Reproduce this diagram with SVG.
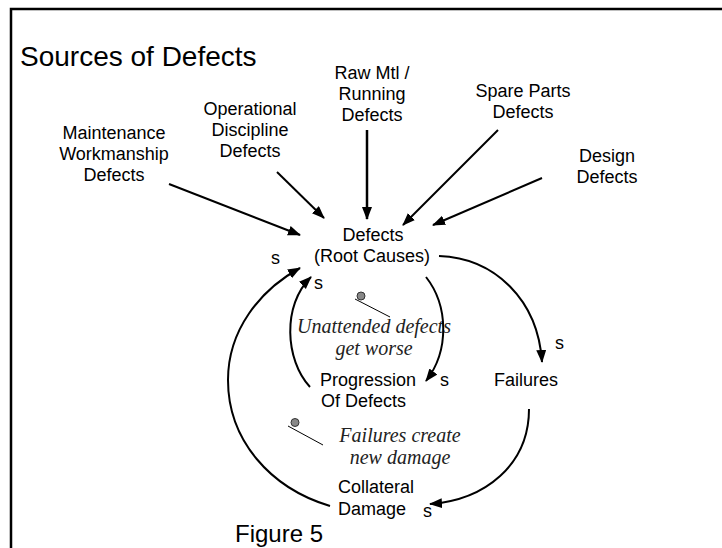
<svg xmlns="http://www.w3.org/2000/svg" width="722" height="548" viewBox="0 0 722 548">
<style>
.lbl{font-family:"Liberation Sans",Arial,sans-serif;font-size:18px;fill:#000;text-anchor:middle}
.st{text-anchor:start}
.note{font-family:"Liberation Serif","Times New Roman",serif;font-style:italic;font-size:20px;fill:#222;text-anchor:middle}
.conn{fill:none;stroke:#000;stroke-width:2;marker-end:url(#ah)}
.pin{fill:#888;stroke:#333;stroke-width:1}
.pinline{stroke:#000;stroke-width:1;fill:none}
</style>
<defs>
<marker id="ah" markerUnits="userSpaceOnUse" markerWidth="14" markerHeight="12" refX="12" refY="5" orient="auto">
<path d="M0,0 L13,5 L0,10 z" fill="#000"/>
</marker>
</defs>
<rect width="722" height="548" fill="#fff"/>
<g id="frame">
<path d="M11,548 L11,9 L722,9" fill="none" stroke="#000" stroke-width="2.5"/>
</g>
<g id="title">
<text x="20" y="66" style="font-family:'Liberation Sans',Arial,sans-serif;font-size:28px">Sources of Defects</text>
</g>
<g id="node-maintenance">
<text class="lbl" x="114" y="139">Maintenance</text>
<text class="lbl" x="114" y="160">Workmanship</text>
<text class="lbl" x="114" y="181">Defects</text>
</g>
<g id="node-operational">
<text class="lbl" x="250" y="115">Operational</text>
<text class="lbl" x="250" y="136">Discipline</text>
<text class="lbl" x="250" y="157">Defects</text>
</g>
<g id="node-rawmtl">
<text class="lbl" x="372" y="79">Raw Mtl /</text>
<text class="lbl" x="372" y="100">Running</text>
<text class="lbl" x="372" y="121">Defects</text>
</g>
<g id="node-spare">
<text class="lbl" x="523" y="97">Spare Parts</text>
<text class="lbl" x="523" y="118">Defects</text>
</g>
<g id="node-design">
<text class="lbl" x="607" y="162">Design</text>
<text class="lbl" x="607" y="183">Defects</text>
</g>
<g id="node-defects">
<text class="lbl" x="373" y="241">Defects</text>
<text class="lbl" x="372" y="262">(Root Causes)</text>
</g>
<g id="node-progression">
<text class="lbl st" x="320" y="386">Progression</text>
<text class="lbl st" x="321" y="407">Of Defects</text>
</g>
<g id="node-failures">
<text class="lbl" x="526" y="386">Failures</text>
</g>
<g id="node-collateral">
<text class="lbl st" x="338" y="493">Collateral</text>
<text class="lbl st" x="338" y="515">Damage</text>
</g>
<g id="note-unattended">
<circle class="pin" cx="361" cy="296" r="4"/>
<line class="pinline" x1="355" y1="299" x2="390" y2="317"/>
<text class="note" x="374" y="333">Unattended defects</text>
<text class="note" x="374" y="355">get worse</text>
</g>
<g id="note-failures">
<circle class="pin" cx="295" cy="422.5" r="4"/>
<line class="pinline" x1="288" y1="426" x2="323" y2="445"/>
<text class="note" x="400" y="442">Failures create</text>
<text class="note" x="400" y="464">new damage</text>
</g>
<g id="connectors">
<line class="conn" x1="169" y1="184" x2="300" y2="235"/>
<line class="conn" x1="277" y1="172" x2="324" y2="218"/>
<line class="conn" x1="367" y1="130" x2="367" y2="219" style="stroke-width:2.5"/>
<line class="conn" x1="498" y1="130" x2="403" y2="225"/>
<line class="conn" x1="542" y1="178" x2="433" y2="225"/>
<path class="conn" d="M439,256 C495,258 538,300 542,362"/>
<path class="conn" d="M426,277 C448,305 450,350 426,381"/>
<path class="conn" d="M310,387 C285,360 282,305 311,277"/>
<path class="conn" d="M529,409 C529,465 485,500 430,504"/>
<path class="conn" d="M330,506 C270,488 228,440 228,380 C228,330 260,290 300,268"/>
</g>
<g id="polarity">
<text class="lbl st" x="271" y="264">s</text>
<text class="lbl st" x="314" y="289">s</text>
<text class="lbl st" x="440" y="386">s</text>
<text class="lbl st" x="555" y="349">s</text>
<text class="lbl st" x="423" y="517">s</text>
</g>
<g id="caption">
<text x="235" y="542" style="font-family:'Liberation Sans',Arial,sans-serif;font-size:24px">Figure 5</text>
</g>
</svg>
